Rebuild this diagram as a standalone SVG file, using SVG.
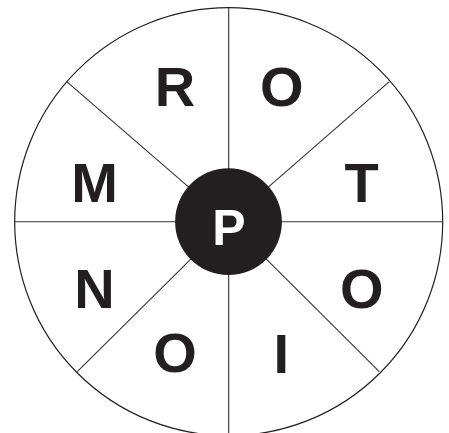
<svg xmlns="http://www.w3.org/2000/svg" width="449" height="433" viewBox="0 0 449 433">
<style>
.ring{fill:#fff;stroke:#231f20;stroke-width:1.2}
.spoke{stroke:#333;stroke-width:1.1;fill:none}
.lt{font-family:"Liberation Sans",Arial,sans-serif;font-weight:bold;font-size:56px;fill:#231f20;text-anchor:middle}
.hub{fill:#231f20}
.hubt{font-family:"Liberation Sans",Arial,sans-serif;font-weight:bold;font-size:50px;fill:#fff;text-anchor:middle}
</style>
<rect width="449" height="433" fill="#fff"/>
<circle class="ring" cx="228.7" cy="221.7" r="214"/>
<g id="connectors">
<line class="spoke" x1="228.7" y1="7.7" x2="228.7" y2="435.7"/>
<line class="spoke" x1="14.7" y1="221.7" x2="442.7" y2="221.7"/>
<line class="spoke" x1="66.7" y1="81.7" x2="228.7" y2="221.7"/>
<line class="spoke" x1="389.3" y1="81.7" x2="228.7" y2="221.7"/>
<line class="spoke" x1="77.3" y1="371.7" x2="228.7" y2="221.7"/>
<line class="spoke" x1="379.3" y1="371.7" x2="228.7" y2="221.7"/>
</g>
<g id="node-R"><text class="lt" x="175" y="106">R</text></g>
<g id="node-O1"><text class="lt" x="281.7" y="106">O</text></g>
<g id="node-M"><text class="lt" x="94.5" y="202">M</text></g>
<g id="node-T"><text class="lt" x="361.7" y="202">T</text></g>
<g id="node-N"><text class="lt" x="94.5" y="308">N</text></g>
<g id="node-O2"><text class="lt" x="361.7" y="308">O</text></g>
<g id="node-O3"><text class="lt" x="175" y="372">O</text></g>
<g id="node-I"><text class="lt" x="281.3" y="373">I</text></g>
<g id="node-P">
<circle class="hub" cx="228.5" cy="221.7" r="53.4"/>
<text class="hubt" x="229" y="245">P</text>
</g>
</svg>
